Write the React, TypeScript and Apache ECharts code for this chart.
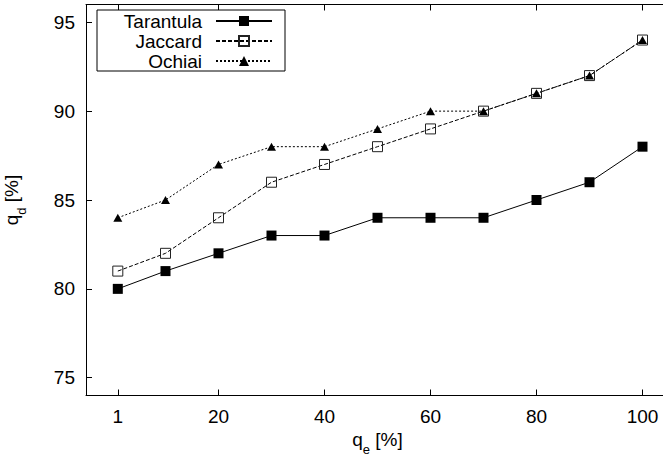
import React, { useEffect, useRef } from "react";
import * as echarts from "echarts";

const qe = [1, 10, 20, 30, 40, 50, 60, 70, 80, 90, 100];
const tarantula = [80, 81, 82, 83, 83, 84, 84, 84, 85, 86, 88];
const jaccard = [81, 82, 84, 86, 87, 88, 89, 90, 91, 92, 94];
const ochiai = [84, 85, 87, 88, 88, 89, 90, 90, 91, 92, 94];
const xTicks = [1, 20, 40, 60, 80, 100];
const yTicks = [75, 80, 85, 90, 95];

const FONT = "Liberation Sans";

export default function App() {
  const ref = useRef<HTMLDivElement>(null);
  useEffect(() => {
    if (!ref.current) return;
    const chart = echarts.init(ref.current, null, { renderer: "svg" });
    const pair = (ys: number[]) => qe.map((x, i) => [x, ys[i]]);
    const axisLine = { show: true, onZero: false, lineStyle: { color: "#000", width: 1 } };
    chart.setOption({
      animation: false,
      backgroundColor: "#fff",
      textStyle: { fontFamily: FONT, color: "#000" },
      grid: {
        left: 86,
        top: 4.5,
        width: 583,
        height: 391,
        containLabel: false,
        outerBoundsMode: "none",
      },
      legend: {
        orient: "vertical",
        left: 97,
        top: 10,
        align: "right",
        itemWidth: 56,
        itemHeight: 12.5,
        itemGap: 0,
        padding: [1, 12, 0, 5],
        borderColor: "#000",
        borderWidth: 1,
        backgroundColor: "#fff",
        textStyle: {
          fontFamily: FONT,
          fontSize: 19,
          color: "#000",
          width: 100,
          align: "right",
          lineHeight: 20,
          padding: [0, 9, 0, 0],
        },
        data: ["Tarantula", "Jaccard", "Ochiai"],
      },
      xAxis: [
        {
          type: "value",
          min: -5,
          max: 105,
          position: "bottom",
          axisLine,
          splitLine: { show: false },
          axisTick: { inside: true, length: 6, customValues: xTicks, lineStyle: { color: "#000" } },
          axisLabel: { customValues: xTicks, fontSize: 19, color: "#000", fontFamily: FONT, margin: 11 },
          name: "{a|q}{b|e}{a| [%]}",
          nameLocation: "middle",
          nameGap: 32,
          nameTextStyle: {
            rich: {
              a: { fontSize: 19, fontFamily: FONT, color: "#000", lineHeight: 26, verticalAlign: "top" },
              b: { fontSize: 13, fontFamily: FONT, color: "#000", lineHeight: 13, verticalAlign: "bottom" },
            },
          },
        },
        {
          type: "value",
          min: -5,
          max: 105,
          position: "top",
          axisLine,
          splitLine: { show: false },
          axisTick: { inside: true, length: 6, customValues: xTicks, lineStyle: { color: "#000" } },
          axisLabel: { show: false },
        },
      ],
      yAxis: {
        type: "value",
        min: 74,
        max: 96,
        axisLine,
        splitLine: { show: false },
        axisTick: { inside: true, length: 6, customValues: yTicks, lineStyle: { color: "#000" } },
        axisLabel: { customValues: yTicks, fontSize: 19, color: "#000", fontFamily: FONT, margin: 11 },
        name: "{a|q}{b|d}{a| [%]}",
        nameLocation: "middle",
        nameGap: 58,
        nameTextStyle: {
          rich: {
            a: { fontSize: 19, fontFamily: FONT, color: "#000", lineHeight: 26, verticalAlign: "top" },
            b: { fontSize: 13, fontFamily: FONT, color: "#000", lineHeight: 13, verticalAlign: "bottom" },
          },
        },
      },
      series: [
        {
          name: "Tarantula",
          type: "line",
          data: pair(tarantula),
          symbol: "rect",
          symbolSize: 10,
          lineStyle: { color: "#000", width: 1, type: "solid" },
          itemStyle: { color: "#000" },
        },
        {
          name: "Jaccard",
          type: "line",
          data: pair(jaccard),
          symbol: "rect",
          symbolSize: 10,
          lineStyle: { color: "#000", width: 1, type: [4, 2] },
          itemStyle: { color: "transparent", borderColor: "#222", borderWidth: 1 },
        },
        {
          name: "Ochiai",
          type: "line",
          data: pair(ochiai),
          symbol: "triangle",
          symbolSize: [9, 8],
          lineStyle: { color: "#000", width: 1, type: [2, 2] },
          itemStyle: { color: "#000" },
        },
      ],
    });
    return () => chart.dispose();
  }, []);
  return (
    <div
      ref={ref}
      style={{ position: "absolute", left: 0, top: 0, width: 663, height: 458 }}
    />
  );
}
